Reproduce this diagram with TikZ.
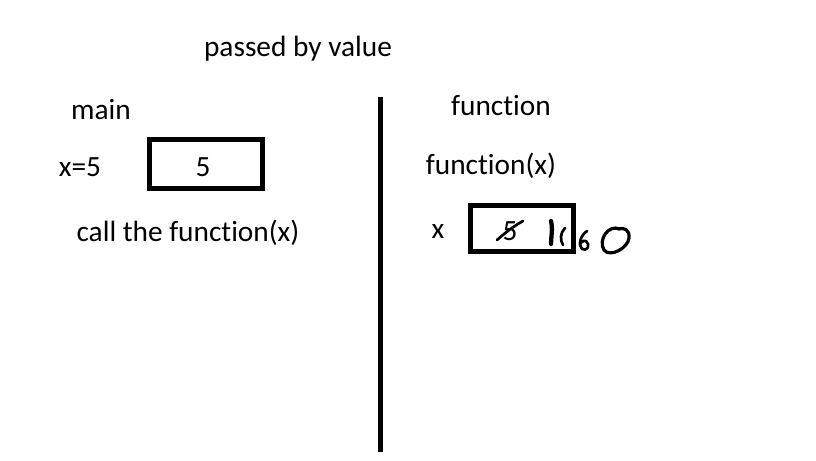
\documentclass[tikz,border=0pt]{standalone}
\usepackage{fontspec}
\setmainfont{Carlito}[RawFeature=-liga]
\usetikzlibrary{positioning}

\tikzset{
  lbl/.style={font=\fontsize{22}{26}\selectfont, inner sep=0pt},
  cell/.style={draw, line width=3.75pt, inner sep=0pt},
  ink/.style={line width=2.6pt, line cap=round, line join=round}
}

\begin{document}
\begin{tikzpicture}[x=0.75pt, y=-0.75pt]
  \useasboundingbox (0,0) rectangle (816,460);

  % title
  \node[lbl] (title) at (298,49) {passed by value};

  % main side
  \node[lbl] (main) at (101,110) {main};
  \node[lbl] (xval) at (80,167) {x=5};
  \node[cell, minimum width=84.75pt, minimum height=36.75pt] (mainbox) at (206,164) {};
  \node[lbl] (mainval) at (203,167) {5};
  \node[lbl] (call) at (188,233) {call the function(x)};

  % divider
  \coordinate (divtop) at (380,97);
  \coordinate (divbot) at (380,452);
  \draw[line width=3.75pt] (divtop) -- (divbot);

  % function side
  \node[lbl] (func) at (501,106) {function};
  \node[lbl] (funcx) at (491,166) {function(x)};
  \node[lbl] (xname) at (438,231) {x};
  \node[cell, minimum width=77.25pt, minimum height=34.5pt] (funcbox) at (522,228.5) {};
  \node[lbl] (oldval) at (510,231) {5};

  % scribbles
  \draw[ink, line width=2pt] (497,240) .. controls (506,232) and (514,226) .. (523,221);
  \draw[ink, line width=3.2pt] (551,221) .. controls (553,229) and (551,237) .. (551,244);
  \draw[ink, line width=2pt] (565,228) .. controls (560,233) and (560,240) .. (563,245);
  \draw[ink, line width=2pt] (587,231) .. controls (580,236) and (578,245) .. (582,249)
    .. controls (587,252) and (591,245) .. (586,241) .. controls (583,240) and (580,243) .. (580,245);
  \draw[ink, line width=2.4pt] (620,229) .. controls (608,224) and (598,240) .. (604,250)
    .. controls (610,258) and (628,248) .. (629,238) .. controls (630,230) and (624,227) .. (618,229);
\end{tikzpicture}
\end{document}
